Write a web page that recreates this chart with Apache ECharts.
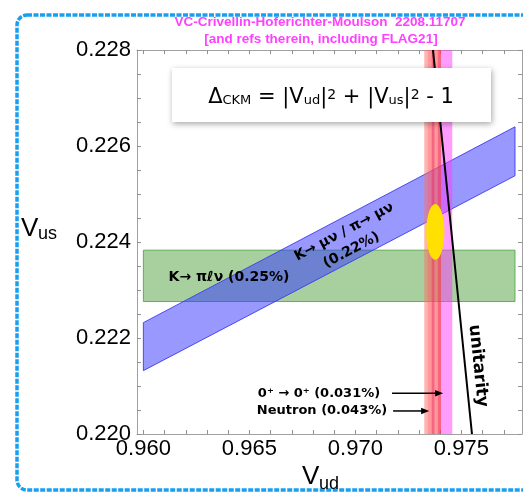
<!DOCTYPE html>
<html><head><meta charset="utf-8">
<script src="https://cdn.jsdelivr.net/npm/echarts@6/dist/echarts.min.js"></script>
<style>html,body{margin:0;padding:0;background:#fff}#c{width:523px;height:494px}</style>
</head><body><div id="c"></div>
<script>
// ---- axes ----
const vudRange = [0.9597, 0.97786];
const vusRange = [0.220, 0.228];
const xLabelValues = [0.960, 0.965, 0.970, 0.975];
const xTickValues = [0.960,0.961,0.962,0.963,0.964,0.965,0.966,0.967,0.968,0.969,0.970,0.971,0.972,0.973,0.974,0.975,0.976,0.977];
const yLabelValues = [0.220, 0.222, 0.224, 0.226, 0.228];
const yTickValues = [0.2200,0.2205,0.2210,0.2215,0.2220,0.2225,0.2230,0.2235,0.2240,0.2245,0.2250,0.2255,0.2260,0.2265,0.2270,0.2275,0.2280];

// ---- K -> pi l nu (horizontal band) ----
const kl3Vud = [0.960, 0.97753];
const kl3Vus = [0.22276, 0.22383];
// ---- K -> mu nu / pi -> mu nu (tilted band corners) ----
const kl2Vud = [0.960, 0.97753, 0.97753, 0.960];
const kl2Vus = [0.22232, 0.22640, 0.22538, 0.22132];
// ---- Vud bands (neutron, 0+ -> 0+, ...) ----
const vudBandLo = [0.97325, 0.97341, 0.97360, 0.97389, 0.97404];
const vudBandHi = [0.97404, 0.97404, 0.97373, 0.97404, 0.97457];
// ---- combined fit ellipse ----
const fitCenter = [0.97377, 0.22421];
const fitHalfAxes = [0.00043, 0.00058];
// ---- unitarity line ----
const unitarityVud = [0.97366, 0.97550];
const unitarityVus = [0.228, 0.220];
// ---- arrows ----
const arrowFromVud = [0.97173, 0.97178];
const arrowToVud = [0.97414, 0.97348];
const arrowVus = [0.22085, 0.22048];
// ---- labels ----
const labelTexts = ['K\u2192 \u03bc\u03bd / \u03c0\u2192 \u03bc\u03bd', '(0.22%)', 'K\u2192 \u03c0\u2113\u03bd (0.25%)', '0\u207a \u2192 0\u207a (0.031%)', 'Neutron (0.043%)', 'unitarity'];
const labelVud = [0.96947, 0.96982, 0.96404, 0.97117, 0.97150, 0.97579];
const labelVus = [0.22421, 0.22383, 0.22327, 0.22085, 0.22048, 0.22142];

// ---- styles (kept separate) ----
const bandColors = ['rgba(255,110,100,0.5)','rgba(255,80,110,0.3)','rgba(235,30,90,0.4)','rgba(235,30,90,0.4)','rgba(255,60,255,0.5)'];
const labelSizes = [14, 14, 14, 13, 13, 17];
const labelAlign = ['center','center','center','right','right','center'];
const labelRotKind = ['band','band','none','none','none','line'];
const FONT_LBL = '"DejaVu Sans", sans-serif';
const FONT_TICK = '"Liberation Sans", Arial, sans-serif';

const chart = echarts.init(document.getElementById('c'), null, {renderer: 'canvas'});

function tickAxisX(pos, showLabel) {
  return {
    type: 'value', position: pos, min: vudRange[0], max: vudRange[1],
    axisLine: {show: true, onZero: false, lineStyle: {color: '#a0a0a0', width: 1}},
    axisTick: {show: true, inside: true, length: 4, customValues: xTickValues, lineStyle: {color: '#909090'}},
    axisLabel: {show: showLabel, customValues: xLabelValues, formatter: v => v.toFixed(3), color: '#000',
      fontFamily: FONT_TICK, fontSize: 22, lineHeight: 22, margin: 4},
    splitLine: {show: false}
  };
}
function tickAxisY(pos, showLabel) {
  return {
    type: 'value', position: pos, min: vusRange[0], max: vusRange[1],
    axisLine: {show: true, onZero: false, lineStyle: {color: '#a0a0a0', width: 1}},
    axisTick: {show: true, inside: true, length: 4, customValues: yTickValues, lineStyle: {color: '#909090'}},
    axisLabel: {show: showLabel, customValues: yLabelValues, formatter: v => v.toFixed(3), color: '#000',
      fontFamily: FONT_TICK, fontSize: 22, margin: 6},
    splitLine: {show: false}
  };
}

const option = {
  animation: false,
  backgroundColor: '#fff',
  grid: {left: 137, top: 50, right: 1, bottom: 60, containLabel: false},
  xAxis: [tickAxisX('bottom', true), tickAxisX('top', false)],
  yAxis: [tickAxisY('left', true), tickAxisY('right', false)],
  series: [
    { // green K->pi l nu band
      type: 'custom', z: 2, clip: true, silent: true,
      data: [[kl3Vud[0], kl3Vus[0], kl3Vud[1], kl3Vus[1]]],
      renderItem: (params, api) => {
        const a = api.coord([api.value(0), api.value(3)]);
        const b = api.coord([api.value(2), api.value(1)]);
        return {type: 'rect', shape: {x: a[0], y: a[1], width: b[0]-a[0], height: b[1]-a[1]},
          style: {fill: 'rgba(60,150,40,0.45)', stroke: 'rgba(70,160,60,0.8)', lineWidth: 1}};
      }
    },
    { // blue K->mu nu band
      type: 'custom', z: 3, clip: true, silent: true,
      data: [[0]],
      renderItem: (params, api) => {
        const pts = kl2Vud.map((v, i) => api.coord([v, kl2Vus[i]]));
        return {type: 'polygon', shape: {points: pts},
          style: {fill: 'rgba(50,50,255,0.5)', stroke: 'rgba(60,60,240,0.9)', lineWidth: 1}};
      }
    },
    { // vertical Vud bands
      type: 'custom', z: 4, clip: true, silent: true,
      data: vudBandLo.map((lo, i) => [lo, vudBandHi[i], i]),
      renderItem: (params, api) => {
        const a = api.coord([api.value(0), vusRange[1]]);
        const b = api.coord([api.value(1), vusRange[0]]);
        return {type: 'rect', shape: {x: a[0], y: a[1], width: b[0]-a[0], height: b[1]-a[1]},
          style: {fill: bandColors[api.value(2)]}};
      }
    },
    { // fit ellipse
      type: 'custom', z: 5, clip: true, silent: true,
      data: [[fitCenter[0], fitCenter[1], fitHalfAxes[0], fitHalfAxes[1]]],
      renderItem: (params, api) => {
        const c = api.coord([api.value(0), api.value(1)]);
        const e = api.coord([api.value(0) + api.value(2), api.value(1) + api.value(3)]);
        const rx = e[0] - c[0], ry = c[1] - e[1];
        return {type: 'circle', x: c[0], y: c[1], scaleX: rx / ry, shape: {cx: 0, cy: 0, r: ry},
          style: {fill: '#ffe000'}};
      }
    },
    { // unitarity
      type: 'line', z: 6, silent: true, showSymbol: false, symbol: 'none', clip: true,
      data: unitarityVud.map((v, i) => [v, unitarityVus[i]]),
      lineStyle: {color: '#000', width: 2}
    },
    { // arrows
      type: 'custom', z: 7, clip: false, silent: true,
      data: arrowFromVud.map((v, i) => [v, arrowToVud[i], arrowVus[i]]),
      renderItem: (params, api) => {
        const a = api.coord([api.value(0), api.value(2)]);
        const b = api.coord([api.value(1), api.value(2)]);
        const L = 8, W = 3.2;
        return {type: 'group', children: [
          {type: 'line', shape: {x1: a[0], y1: a[1], x2: b[0] - L + 1, y2: b[1]}, style: {stroke: '#000', lineWidth: 1.5}},
          {type: 'polygon', shape: {points: [[b[0], b[1]], [b[0] - L, b[1] - W], [b[0] - L, b[1] + W]]}, style: {fill: '#000'}}
        ]};
      }
    },
    { // labels
      type: 'custom', z: 8, clip: false, silent: true,
      data: labelVud.map((v, i) => [v, labelVus[i], i]),
      renderItem: (params, api) => {
        const i = api.value(2);
        const p = api.coord([api.value(0), api.value(1)]);
        let rot = 0;
        if (labelRotKind[i] === 'band') {
          const a = api.coord([kl2Vud[0], kl2Vus[0]]), b = api.coord([kl2Vud[1], kl2Vus[1]]);
          rot = Math.atan2(a[1] - b[1], b[0] - a[0]);
        } else if (labelRotKind[i] === 'line') {
          const a = api.coord([unitarityVud[0], unitarityVus[0]]), b = api.coord([unitarityVud[1], unitarityVus[1]]);
          rot = Math.atan2(a[1] - b[1], b[0] - a[0]);
        }
        return {type: 'text', x: p[0], y: p[1], rotation: rot,
          style: {text: labelTexts[i], fontFamily: FONT_LBL, fontWeight: 'bold', fontSize: labelSizes[i],
            fill: '#000', align: labelAlign[i], verticalAlign: 'middle'}};
      }
    }
  ],
  graphic: [
    {type: 'rect', z: 50, silent: true, shape: {x: 17, y: 15, width: 540, height: 475, r: 10},
      style: {fill: 'none', stroke: '#1a9ff0', lineWidth: 3.5, lineDash: [5, 1.5]}},
    {type: 'text', z: 50, x: 320, y: 22, style: {text: 'VC-Crivellin-Hoferichter-Moulson  2208.11707', fill: '#ff40ff',
      fontFamily: FONT_TICK, fontWeight: 'bold', fontSize: 13.5, align: 'center', verticalAlign: 'middle'}},
    {type: 'text', z: 50, x: 321, y: 39, style: {text: '[and refs therein, including FLAG21]', fill: '#ff40ff',
      fontFamily: FONT_TICK, fontWeight: 'bold', fontSize: 13.5, align: 'center', verticalAlign: 'middle'}},
    // axis titles
    {type: 'text', z: 50, x: 302, y: 477, style: {text: 'V', fill: '#000', fontFamily: FONT_TICK, fontSize: 26, align: 'left', verticalAlign: 'middle'}},
    {type: 'text', z: 50, x: 319, y: 484, style: {text: 'ud', fill: '#000', fontFamily: FONT_TICK, fontSize: 18, align: 'left', verticalAlign: 'middle'}},
    {type: 'text', z: 50, x: 21, y: 229, style: {text: 'V', fill: '#000', fontFamily: FONT_TICK, fontSize: 26, align: 'left', verticalAlign: 'middle'}},
    {type: 'text', z: 50, x: 38, y: 234, style: {text: 'us', fill: '#000', fontFamily: FONT_TICK, fontSize: 18, align: 'left', verticalAlign: 'middle'}},
    // formula box
    {type: 'rect', z: 60, silent: true, shape: {x: 172, y: 68, width: 319, height: 54},
      style: {fill: '#fff', shadowBlur: 6, shadowColor: 'rgba(0,0,0,0.35)', shadowOffsetX: 1, shadowOffsetY: 2}},
    {type: 'text', z: 61, x: 331, y: 95, style: {
      text: '{n|\u0394}{s|CKM}{n| = |V}{s|ud}{n||}{p|2}{n| + |V}{s|us}{n||}{p|2}{n| - 1}',
      fill: '#000', fontFamily: '"DejaVu Sans", sans-serif', align: 'center', verticalAlign: 'middle',
      rich: {
        n: {fontSize: 21, lineHeight: 26, height: 26, verticalAlign: 'bottom', fontFamily: '"DejaVu Sans", sans-serif', fill: '#000'},
        s: {fontSize: 13, lineHeight: 20, height: 20, verticalAlign: 'bottom', fontFamily: '"DejaVu Sans", sans-serif', fill: '#000'},
        p: {fontSize: 14, lineHeight: 31, height: 31, verticalAlign: 'bottom', fontFamily: '"DejaVu Sans", sans-serif', fill: '#000'}
      }}}
  ]
};
chart.setOption(option);
</script>
</body></html>
